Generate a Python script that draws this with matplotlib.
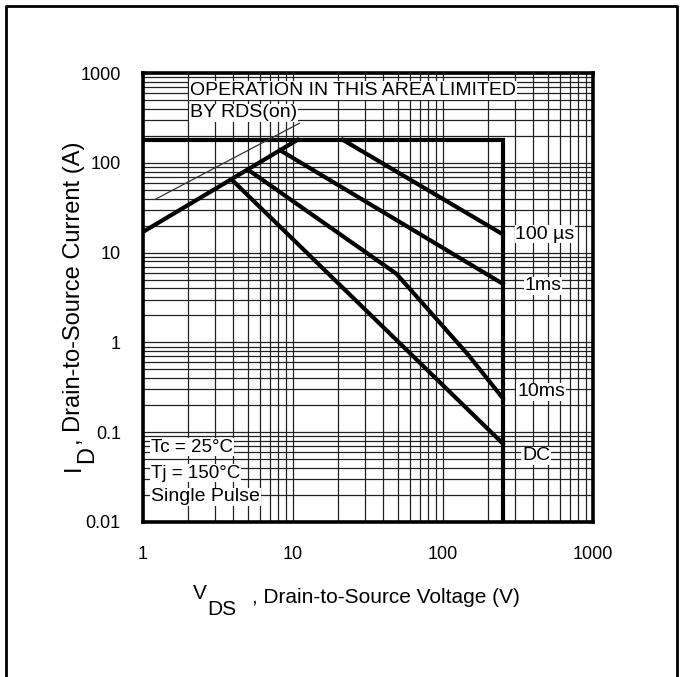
import matplotlib
matplotlib.use('Agg')
import matplotlib.pyplot as plt
from matplotlib.lines import Line2D

# Datos (zona de operacion segura)
limite_v = [1, 250, 250]
limite_i = [180, 180, 0.01]

rds_v = [1, 10.7]
rds_i = [17, 180]

guia_v = [1.2, 11]
guia_i = [39, 275]

us100_v = [21.5, 250]
us100_i = [180, 16]

ms1_v = [8.2, 250]
ms1_i = [138, 4.5]

ms10_v = [5.0, 49, 148, 250]
ms10_i = [84, 5.8, 0.72, 0.24]

dc_v = [3.9, 250]
dc_i = [65, 0.075]

x_ticks = [1, 10, 100, 1000]
x_labels = ['1', '10', '100', '1000']
y_ticks = [0.01, 0.1, 1, 10, 100, 1000]
y_labels = ['0.01', '0.1', '1', '10', '100', '1000']

W, H = 680, 677

plt.rcParams['font.family'] = ['Liberation Sans', 'DejaVu Sans']


def fx(px):
    return px / W


def fy(py):
    return 1 - py / H


fig = plt.figure(figsize=(6.8, 6.77), dpi=100)
ax = fig.add_axes([fx(143), fy(522), 450 / W, 449 / H])

ax.set_xscale('log')
ax.set_yscale('log')
ax.set_xlim(1, 1000)
ax.set_ylim(0.01, 1000)

ax.grid(True, which='both', color='#222222', linewidth=0.9)
ax.set_axisbelow(True)

ax.plot(limite_v, limite_i, color='black', lw=3, solid_joinstyle='miter')
ax.plot(rds_v, rds_i, color='black', lw=3)
ax.plot(guia_v, guia_i, color='#333333', lw=0.9)
ax.plot(us100_v, us100_i, color='black', lw=3)
ax.plot(ms1_v, ms1_i, color='black', lw=3)
ax.plot(ms10_v, ms10_i, color='black', lw=3)
ax.plot(dc_v, dc_i, color='black', lw=3)

ax.set_xticks(x_ticks)
ax.set_xticklabels(x_labels)
ax.set_yticks(y_ticks)
ax.set_yticklabels(y_labels)
ax.tick_params(which='both', length=0)
ax.tick_params(axis='x', pad=17, labelsize=13)
ax.tick_params(axis='y', pad=16, labelsize=13)
for s in ax.spines.values():
    s.set_linewidth(2.6)

caja = dict(facecolor='white', edgecolor='none', pad=0.6)
tr = ax.transAxes
ax.text(0.105, 0.961, 'OPERATION IN THIS AREA LIMITED', fontsize=14,
        va='center', ha='left', bbox=caja, transform=tr)
ax.text(0.105, 0.911, 'BY RDS(on)', fontsize=14, va='center', ha='left',
        bbox=caja, transform=tr)

ax.text(0.018, 0.167, 'Tc = 25°C', fontsize=13.5, va='center', bbox=caja, transform=tr)
ax.text(0.018, 0.109, 'Tj = 150°C', fontsize=13.5, va='center', bbox=caja, transform=tr)
ax.text(0.018, 0.056, 'Single Pulse', fontsize=14, va='center', bbox=caja, transform=tr)

ax.text((545 - 143) / 450, 0.641, '100 µs', fontsize=14, va='center', ha='center',
        bbox=caja, transform=tr)
ax.text((543 - 143) / 450, 0.526, '1ms', fontsize=14, va='center', ha='center',
        bbox=caja, transform=tr)
ax.text((541 - 143) / 450, 0.290, '10ms', fontsize=14, va='center', ha='center',
        bbox=caja, transform=tr)
ax.text((536 - 143) / 450, 0.147, 'DC', fontsize=14, va='center', ha='center',
        bbox=caja, transform=tr)

# etiqueta del eje x: V con subindice DS del mismo tamano
fig.text(fx(193), fy(599), 'V', fontsize=15, ha='left', va='baseline')
fig.text(fx(207), fy(615), 'DS', fontsize=15, ha='left', va='baseline')
fig.text(fx(252), fy(603), ', Drain-to-Source Voltage (V)', fontsize=15,
         ha='left', va='baseline')

# etiqueta del eje y (girada)
fig.text(fx(80), fy(471), 'I', fontsize=17, ha='left', va='baseline',
         rotation=90, rotation_mode='anchor')
fig.text(fx(93), fy(463), 'D', fontsize=17, ha='left', va='baseline',
         rotation=90, rotation_mode='anchor')
fig.text(fx(80), fy(445), ', Drain-to-Source Current (A)', fontsize=17,
         ha='left', va='baseline', rotation=90, rotation_mode='anchor')

# marco exterior (izquierda, arriba, derecha)
xs = [fx(5.5), fx(5.5), fx(676.5), fx(676.5)]
ys = [0, fy(6), fy(6), 0]
fig.add_artist(Line2D(xs, ys, transform=fig.transFigure, color='black', lw=2))

plt.savefig('out.png', dpi=100)
